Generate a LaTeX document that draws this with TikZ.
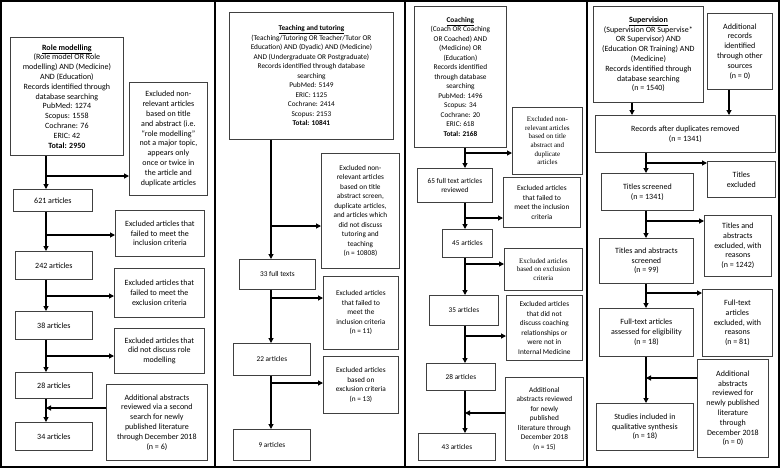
\documentclass[tikz,border=0pt]{standalone}
\usepackage{fontspec}
\setmainfont{Carlito}
\newfontfamily\tnr{Liberation Serif}
\usetikzlibrary{arrows.meta}

\tikzset{
  box/.style={draw=black!75, line width=0.8pt, align=center, anchor=north west,
    inner sep=1pt, font=\fontsize{7.3}{9.5}\selectfont},
  bigbox/.style={box, font=\fontsize{8}{9.8}\selectfont},
  serifbox/.style={box, font=\tnr\fontsize{7}{8.6}\selectfont},
  sz/.style 2 args={minimum width=#1pt, minimum height=#2pt},
  arr/.style={-{Triangle[length=5pt,width=5pt]}, line width=1.1pt},
  frame/.style={line width=2.2pt}
}

\begin{document}
\begin{tikzpicture}[x=1pt,y=-1pt]
    \useasboundingbox (0,0) rectangle (780,469);
    % panel frames
    \draw[frame] (1,1) rectangle (779,467);
    \foreach \x in {215,405,587}
    \draw[frame] (\x,1) -- (\x,467);

    % role modelling
    \node[bigbox, sz={113}{118}] (role) at (10,37) {\underline{\textbf{Role modelling}}\\(Role model OR Role\\modelling) AND (Medicine)\\AND (Education)\\Records identified through\\database searching\\PubMed: 1274\\Scopus: 1558\\Cochrane: 76\\ERIC: 42\\\textbf{Total: 2950}};
    \node[bigbox, sz={78}{113}] (rex1) at (129,82) {Excluded non-\\relevant articles\\based on title\\and abstract (i.e.\\“role modelling”\\not a major topic,\\appears only\\once or twice in\\the article and\\duplicate articles};
    \node[bigbox, sz={79}{22}] (r621) at (13,189) {621 articles};
    \node[bigbox, sz={89}{46}] (rex2) at (115,210) {Excluded articles that\\failed to meet the\\inclusion criteria};
    \node[bigbox, sz={77}{28}] (r242) at (15,251) {242 articles};
    \node[bigbox, sz={90}{49}] (rex3) at (114,268) {Excluded articles that\\failed to meet the\\exclusion criteria};
    \node[bigbox, sz={77}{28}] (r38) at (15,311) {38 articles};
    \node[bigbox, sz={90}{45}] (rex4) at (114,328) {Excluded articles that\\did not discuss role\\modelling};
    \node[bigbox, sz={77}{26}] (r28) at (15,372) {28 articles};
    \node[bigbox, sz={101}{76}] (radd) at (106,384) {Additional abstracts\\reviewed via a second\\search for newly\\published literature\\through December 2018\\(n = 6)};
    \node[bigbox, sz={77}{28}] (r34) at (15,422) {34 articles};

    \coordinate (rt) at (46,0);
    \coordinate (rb1) at (46,176);
    \coordinate (rb2) at (46,235);
    \coordinate (rb3) at (46,296);
    \coordinate (rb4) at (46,356);
    \coordinate (rj) at (46,408);
    \draw[arr] (role.south -| rt) -- (r621.north -| rt);
    \draw[arr] (r621.south -| rt) -- (r242.north -| rt);
    \draw[arr] (r242.south -| rt) -- (r38.north -| rt);
    \draw[arr] (r38.south -| rt) -- (r28.north -| rt);
    \draw[arr] (r28.south -| rt) -- (r34.north -| rt);
    \draw[arr] (rb1) -- (rb1 -| rex1.west);
    \draw[arr] (rb2) -- (rb2 -| rex2.west);
    \draw[arr] (rb3) -- (rb3 -| rex3.west);
    \draw[arr] (rb4) -- (rb4 -| rex4.west);
    \draw[arr] (rj -| radd.west) -- (rj);

    % teaching and tutoring
    \node[box, sz={164}{127}] (teach) at (229,12) {\underline{\textbf{Teaching and tutoring}}\\(Teaching/Tutoring OR Teacher/Tutor OR\\Education) AND (Dyadic) AND (Medicine)\\AND (Undergraduate OR Postgraduate)\\Records identified through database\\searching\\PubMed: 5149\\ERIC: 1125\\Cochrane: 2414\\Scopus: 2153\\\textbf{Total: 10841}};
    \node[box, sz={78}{115}] (tex1) at (321,153) {Excluded non-\\relevant articles\\based on title\\abstract screen,\\duplicate articles,\\and articles which\\did not discuss\\tutoring and\\teaching\\(n = 10808)};
    \node[box, sz={76}{30}] (t33) at (239,259) {33 full texts};
    \node[box, sz={75}{73}] (tex2) at (323,276) {Excluded articles\\that failed to\\meet the\\inclusion criteria\\(n = 11)};
    \node[box, sz={77}{32}] (t22) at (233,343) {22 articles};
    \node[box, sz={75}{57}] (tex3) at (323,356) {Excluded articles\\based on\\exclusion criteria\\(n = 13)};
    \node[box, sz={77}{31}] (t9) at (233,429) {9 articles};

    \coordinate (tt) at (271,0);
    \coordinate (tb1) at (271,226);
    \coordinate (tb2) at (271,298);
    \coordinate (tb3) at (271,383);
    \draw[arr] (teach.south -| tt) -- (t33.north -| tt);
    \draw[arr] (t33.south -| tt) -- (t22.north -| tt);
    \draw[arr] (t22.south -| tt) -- (t9.north -| tt);
    \draw[arr] (tb1) -- (tb1 -| tex1.west);
    \draw[arr] (tb2) -- (tb2 -| tex2.west);
    \draw[arr] (tb3) -- (tb3 -| tex3.west);

    % coaching
    \node[box, sz={92}{141}] (coach) at (414,6) {\underline{\textbf{Coaching}}\\(Coach OR Coaching\\OR Coached) AND\\(Medicine) OR\\(Education)\\Records identified\\through database\\searching\\PubMed: 1496\\Scopus: 34\\Cochrane: 20\\ERIC: 618\\\textbf{Total: 2168}};
    \node[serifbox, sz={70}{67}] (cex1) at (512,107) {Excluded non-\\relevant articles\\based on title\\abstract and\\duplicate\\articles};
    \node[box, sz={75}{34}] (c65) at (417,168) {65 full text articles\\reviewed};
    \node[box, sz={77}{50}] (cex2) at (503,177) {Excluded articles\\that failed to\\meet the inclusion\\criteria};
    \node[box, sz={50}{28}] (c45) at (442,229) {45 articles};
    \node[serifbox, sz={78}{42}] (cex3) at (504,248) {Excluded articles\\based on exclusion\\criteria};
    \node[box, sz={69}{30}] (c35) at (429,295) {35 articles};
    \node[box, sz={76}{65}] (cex4) at (506,295) {Excluded articles\\that did not\\discuss coaching\\relationships or\\were not in\\Internal Medicine};
    \node[box, sz={69}{27}] (c28) at (426,363) {28 articles};
    \node[box, sz={78}{83}] (cadd) at (505,377) {Additional\\abstracts reviewed\\for newly\\published\\literature through\\December 2018\\(n = 15)};
    \node[box, sz={77}{27}] (c43) at (418,433) {43 articles};

    \coordinate (ct) at (465,0);
    \coordinate (cb1) at (465,153);
    \coordinate (cb2) at (465,218);
    \coordinate (cb3) at (465,264);
    \coordinate (cb4) at (465,336);
    \coordinate (cj) at (465,413);
    \draw[arr] (coach.south -| ct) -- (c65.north -| ct);
    \draw[arr] (c65.south -| ct) -- (c45.north -| ct);
    \draw[arr] (c45.south -| ct) -- (c35.north -| ct);
    \draw[arr] (c35.south -| ct) -- (c28.north -| ct);
    \draw[arr] (c28.south -| ct) -- (c43.north -| ct);
    \draw[arr] (cb1) -- (cb1 -| cex1.west);
    \draw[arr] (cb2) -- (cb2 -| cex2.west);
    \draw[arr] (cb3) -- (cb3 -| cex3.west);
    \draw[arr] (cb4) -- (cb4 -| cex4.west);
    \draw[arr] (cj -| cadd.west) -- (cj);

    % supervision
    \node[bigbox, sz={110}{96}] (sup) at (593,6) {\underline{\textbf{Supervision}}\\(Supervision OR Supervise*\\OR Supervisor) AND\\(Education OR Training) AND\\(Medicine)\\Records identified through\\database searching\\(n = 1540)};
    \node[bigbox, sz={65}{76}] (sother) at (707,13) {Additional\\records\\identified\\through other\\sources\\(n = 0)};
    \node[bigbox, sz={180}{37}] (sdup) at (595,115) {Records after duplicates removed\\(n = 1341)};
    \node[bigbox, sz={68}{36}] (sex1) at (707,161) {Titles\\excluded};
    \node[bigbox, sz={92}{37}] (stit) at (601,173) {Titles screened\\(n = 1341)};
    \node[bigbox, sz={67}{61}] (sex2) at (704,215) {Titles and\\abstracts\\excluded, with\\reasons\\(n = 1242)};
    \node[bigbox, sz={94}{45}] (sabs) at (599,238) {Titles and abstracts\\screened\\(n = 99)};
    \node[bigbox, sz={70}{67}] (sex3) at (702,289) {Full-text\\articles\\excluded, with\\reasons\\(n = 81)};
    \node[bigbox, sz={94}{48}] (sfull) at (599,308) {Full-text articles\\assessed for eligibility\\(n = 18)};
    \node[bigbox, sz={71}{98}] (sadd) at (697,359) {Additional\\abstracts\\reviewed for\\newly published\\literature\\through\\December 2018\\(n = 0)};
    \node[bigbox, sz={97}{47}] (sinc) at (596,403) {Studies included in\\qualitative synthesis\\(n = 18)};

    \coordinate (sa) at (632,0);
    \coordinate (sb) at (729,0);
    \coordinate (st) at (646,0);
    \coordinate (sb1) at (646,163);
    \coordinate (sb2) at (646,221);
    \coordinate (sb3) at (646,293);
    \coordinate (sj) at (646,378);
    \draw[arr] (sup.south -| sa) -- (sdup.north -| sa);
    \draw[arr] (sother.south -| sb) -- (sdup.north -| sb);
    \draw[arr] (sdup.south -| st) -- (stit.north -| st);
    \draw[arr] (stit.south -| st) -- (sabs.north -| st);
    \draw[arr] (sabs.south -| st) -- (sfull.north -| st);
    \draw[arr] (sfull.south -| st) -- (sinc.north -| st);
    \draw[arr] (sb1) -- (sb1 -| sex1.west);
    \draw[arr] (sb2) -- (sb2 -| sex2.west);
    \draw[arr] (sb3) -- (sb3 -| sex3.west);
    \draw[arr] (sj -| sadd.west) -- (sj);
\end{tikzpicture}
\end{document}
